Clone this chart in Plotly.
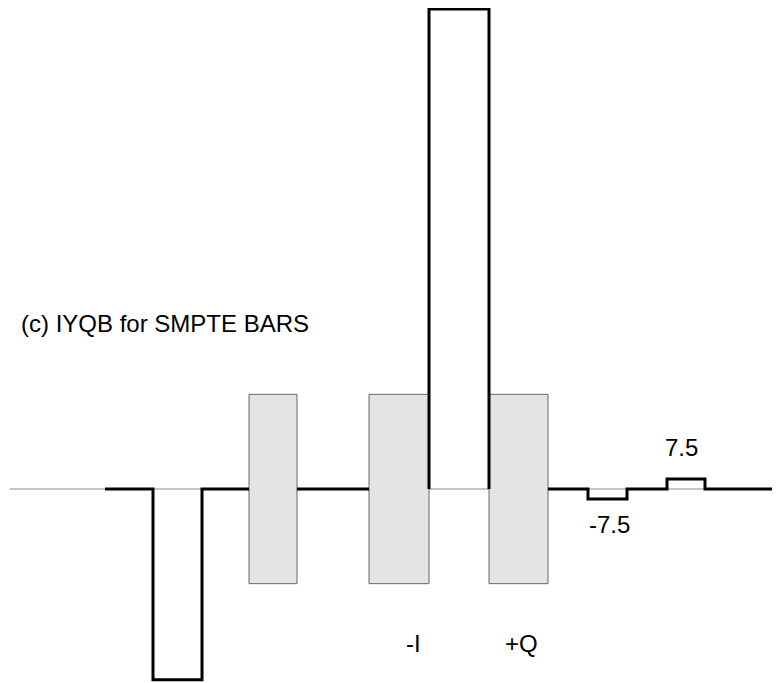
import plotly.graph_objects as go

# Waveform (time axis in arbitrary units, amplitude in IRE)
wave_x = [105, 153, 153, 202, 202, 249, None, 297, 369, None,
          429, 429, 489, 489, None, 548, 588, 588, 627, 627, 667, 667, 705, 705, 775]
wave_y = [0, 0, -143, -143, 0, 0, None, 0, 0, None,
          0, 360, 360, 0, None, 0, 0, -7.5, -7.5, 0, 0, 7.5, 7.5, 0, 0]

baseline_x = [10, 775]
baseline_y = [0, 0]

# Gray chroma boxes: (start, end, half-amplitude)
box_start = [249, 369, 489]
box_end = [297, 429, 548]
box_amp = [71, 71, 71]

label_text = ["7.5", "-7.5", "-I", "+Q"]
label_x = [681, 609, 413, 521]
label_y = [31.5, -26.5, -115.5, -115.5]

title_text = "(c) IYQB for SMPTE BARS"
title_x = 19
title_y = 124

FONT = "Liberation Sans, Arial, sans-serif"

fig = go.Figure()
fig.add_trace(go.Scatter(x=baseline_x, y=baseline_y, mode="lines",
                         line=dict(color="#8a8a8a", width=1), hoverinfo="skip"))
for s, e, a in zip(box_start, box_end, box_amp):
    fig.add_trace(go.Scatter(x=[s, e, e, s, s], y=[a, a, -a, -a, a], mode="lines",
                             fill="toself", fillcolor="#e4e4e4",
                             line=dict(color="#666666", width=1), hoverinfo="skip"))
fig.add_trace(go.Scatter(x=wave_x, y=wave_y, mode="lines",
                         line=dict(color="black", width=3), hoverinfo="skip",
                         connectgaps=False, cliponaxis=False))

for t, x, y in zip(label_text, label_x, label_y):
    fig.add_annotation(x=x, y=y, text=t, showarrow=False, xanchor="center",
                       yanchor="middle", font=dict(size=24, color="black", family=FONT))
fig.add_annotation(x=title_x, y=title_y, text=title_text, showarrow=False,
                   xanchor="left", yanchor="middle",
                   font=dict(size=24, color="black", family=FONT))

# the page body adds an 8px offset; ranges compensate so data units map as intended
fig.update_layout(width=780, height=683, margin=dict(l=0, r=0, t=0, b=0),
                  paper_bgcolor="white", plot_bgcolor="white", showlegend=False,
                  xaxis=dict(range=[8, 788], visible=False, fixedrange=True),
                  yaxis=dict(range=[-151.5, 360.75], visible=False, fixedrange=True))
fig.write_html("out.html")
